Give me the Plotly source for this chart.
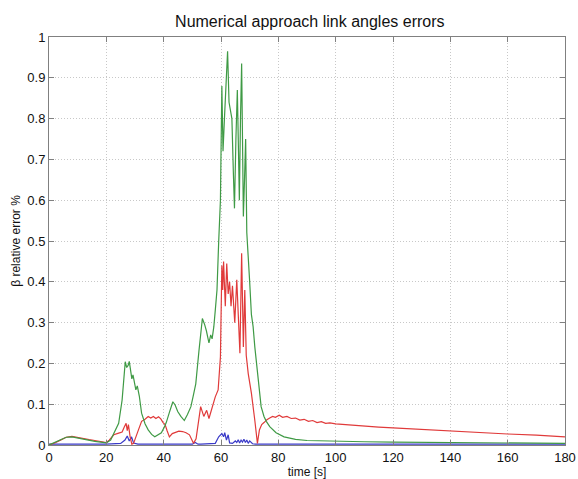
import plotly.graph_objects as go

title_text = "Numerical approach link angles errors"
x_label = "time [s]"
y_label = "β relative error %"

# Green series
green_t = [0, 2, 4, 6, 8, 10, 12, 14, 16, 18, 20, 21.5, 23, 24.3, 25.5, 26, 26.6, 27.1, 27.6, 28, 28.5,
           28.9, 29.3, 29.8, 30.3, 30.8, 31.5, 32.3, 33.5, 34.6, 35.8, 36.9, 38, 39.2, 40.3, 40.9, 42,
           43.2, 44, 44.9, 46, 47.2, 48.3, 49.5, 50.3, 51.2, 52.3, 53.5, 54.3, 54.9, 55.8, 56.4, 56.9,
           57.5, 58, 58.6, 59.2, 59.8, 60.3, 60.7, 61.2, 61.8, 62.3, 62.8, 63.3, 63.8, 64.3, 64.7, 65.2,
           65.7, 66.1, 66.4, 66.8, 67.2, 67.5, 67.8, 68.2, 68.6, 69.0, 69.5, 70.0, 70.6, 71.2, 71.8,
           72.9, 74, 75, 75.8, 77, 79.2, 82, 86, 90, 100, 110, 120, 140, 160, 180]
green_v = [0.0, 0.006, 0.013, 0.019, 0.02, 0.017, 0.015, 0.012, 0.009, 0.007, 0.005, 0.012, 0.035, 0.053, 0.11, 0.16, 0.204, 0.19, 0.195, 0.205, 0.185,
           0.162, 0.172, 0.15, 0.135, 0.145, 0.12, 0.078, 0.052, 0.037, 0.026, 0.02, 0.025, 0.03, 0.045, 0.055, 0.08,
           0.106, 0.098, 0.082, 0.07, 0.06, 0.075, 0.094, 0.12, 0.15, 0.23, 0.31, 0.295, 0.28, 0.25, 0.27, 0.26,
           0.29, 0.33, 0.38, 0.5, 0.6, 0.88, 0.72, 0.8, 0.88, 0.965, 0.84, 0.82, 0.8, 0.67, 0.58, 0.75,
           0.87, 0.72, 0.6, 0.8, 0.935, 0.75, 0.56, 0.65, 0.75, 0.52, 0.445, 0.4, 0.32, 0.29, 0.24,
           0.16, 0.094, 0.07, 0.058, 0.045, 0.03, 0.02, 0.014, 0.011, 0.009, 0.008, 0.007, 0.006, 0.005, 0.004]

# Red series
red_t = [0, 2, 4, 6, 8, 10, 12, 14, 16, 18, 20, 21, 22.6, 24.3, 25.5, 26.3, 26.9, 27.3, 27.7, 28.3, 28.9,
         29.5, 30.2, 31.2, 32.3, 33.5, 34.6, 35.5, 36.4, 37.3, 38.2, 39, 39.8, 40.5, 41.2, 42, 43, 44,
         45.3, 46.6, 47.8, 49, 50.4, 51.3, 52.3, 52.9, 54, 55, 55.8, 56.8, 58, 59, 59.8, 60.3, 60.6,
         60.9, 61.5, 62, 62.5, 63, 63.5, 64, 64.3, 64.8, 65.5, 66, 66.6, 67.2, 67.8, 68.3, 68.8, 69.5,
         70.6, 71.8, 72.7, 73.4, 74.2, 75, 76, 77, 78, 79, 80.3, 81.5, 83, 84.5, 86, 87.5, 89, 90.5,
         92, 93.5, 95, 96.5, 98, 100, 105, 110, 115, 120, 130, 140, 150, 160, 170, 180]
red_v = [0.0, 0.005, 0.012, 0.019, 0.021, 0.018, 0.016, 0.013, 0.011, 0.009, 0.006, 0.012, 0.025, 0.029, 0.032, 0.045, 0.053, 0.035, 0.05, 0.02, 0.002,
         0.004, 0.02, 0.037, 0.058, 0.063, 0.07, 0.066, 0.07, 0.065, 0.069, 0.064, 0.055, 0.05, 0.035, 0.02, 0.028, 0.03,
         0.034, 0.033, 0.03, 0.025, 0.004, 0.015, 0.07, 0.094, 0.07, 0.085, 0.065, 0.09, 0.118, 0.135, 0.216, 0.44, 0.38,
         0.45, 0.34, 0.445, 0.37, 0.4, 0.34, 0.39, 0.355, 0.3, 0.405, 0.31, 0.225, 0.47, 0.24, 0.38, 0.22, 0.175,
         0.127, 0.06, 0.004, 0.037, 0.05, 0.055, 0.062, 0.066, 0.07, 0.068, 0.073, 0.068, 0.07, 0.065, 0.066, 0.061, 0.063, 0.058,
         0.06, 0.055, 0.057, 0.053, 0.054, 0.052, 0.049, 0.047, 0.044, 0.042, 0.038, 0.034, 0.031, 0.027, 0.024, 0.02]

# Blue series
blue_t = [0, 20, 25, 26.5, 27.3, 28, 28.8, 29.5, 31, 50, 51, 52, 53, 58, 59.2, 60.3, 60.9, 61.3, 61.9, 62.5,
          63, 64, 65, 65.5, 66, 66.5, 67, 67.5, 68, 68.5, 69, 69.5, 70, 71, 72, 80, 180]
blue_v = [0.002, 0.002, 0.004, 0.012, 0.022, 0.01, 0.02, 0.005, 0.002, 0.002, 0.006, 0.002, 0.002, 0.004, 0.02, 0.028, 0.02, 0.03, 0.012, 0.025,
          0.005, 0.004, 0.01, 0.006, 0.013, 0.005, 0.012, 0.007, 0.014, 0.006, 0.012, 0.004, 0.01, 0.003, 0.002, 0.002, 0.002]

FONT = "Liberation Sans, Arial, sans-serif"

fig = go.Figure()
fig.add_trace(go.Scatter(x=blue_t, y=blue_v, mode="lines", line=dict(color="#3a3ac8", width=1.2)))
fig.add_trace(go.Scatter(x=red_t, y=red_v, mode="lines", line=dict(color="#e03a3a", width=1.2)))
fig.add_trace(go.Scatter(x=green_t, y=green_v, mode="lines", line=dict(color="#3f9a45", width=1.2)))

axis_common = dict(
    showline=True, linecolor="#808080", linewidth=1, mirror="ticks",
    ticks="inside", ticklen=5, tickcolor="#808080",
    showgrid=True, gridcolor="#c8c8c8", griddash="1px,2px", gridwidth=1,
    zeroline=False, ticklabeloverflow="allow", automargin=False,
    tickfont=dict(family=FONT, size=13, color="#111111"),
)

fig.update_layout(
    width=578, height=479,
    margin=dict(l=49, r=13, t=37, b=34),
    paper_bgcolor="white", plot_bgcolor="white",
    showlegend=False,
    title=dict(text=title_text, x=0.536, xanchor="center", y=0.955, yanchor="middle",
               font=dict(family=FONT, size=16, color="#111111")),
    xaxis=dict(range=[0, 180], dtick=20, tick0=0,
               title=dict(text=x_label, standoff=1, font=dict(family=FONT, size=12, color="#111111")),
               **axis_common),
    yaxis=dict(range=[0, 1], dtick=0.1, tick0=0,
               title=dict(text=y_label, standoff=4, font=dict(family=FONT, size=12, color="#111111")),
               **axis_common),
)

fig.write_html("out.html")
